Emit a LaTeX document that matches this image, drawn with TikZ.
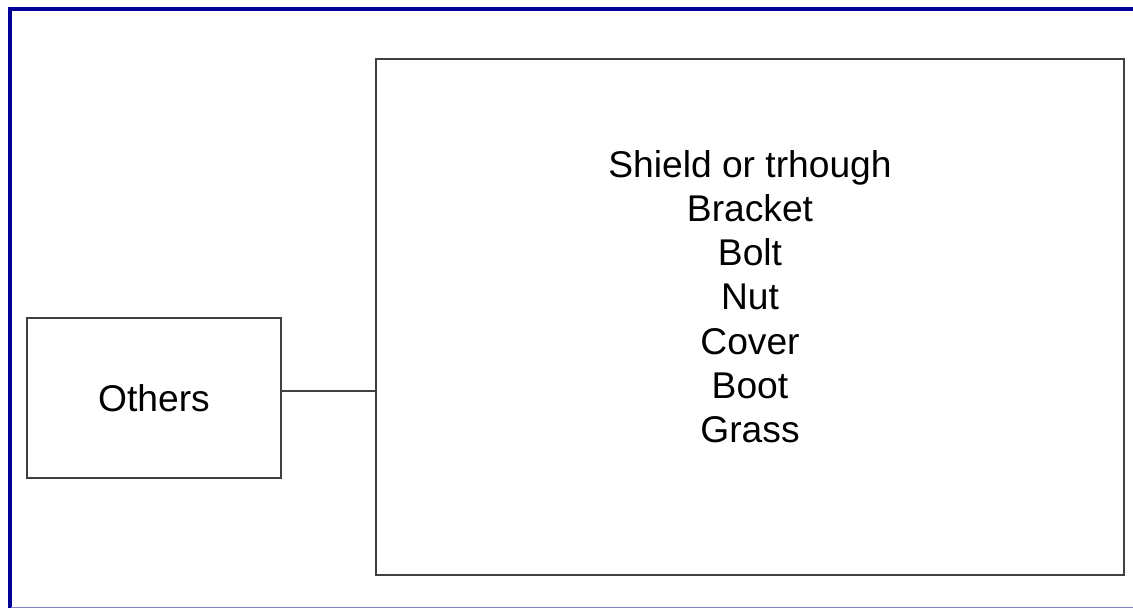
\documentclass[tikz,border=0pt]{standalone}
\usepackage{fontspec}
\setmainfont{Liberation Sans}
\usetikzlibrary{positioning}
\definecolor{framenavy}{RGB}{0,0,150}
\definecolor{framelav}{RGB}{130,130,200}
\definecolor{boxgray}{RGB}{64,64,64}
\tikzset{
  box/.style={draw=boxgray,line width=1pt,inner sep=0pt,fill=white},
  label/.style={font=\fontsize{18.6}{22.1}\selectfont,align=center,inner sep=0pt}
}
\begin{document}
\begin{tikzpicture}[x=0.5pt,y=-0.5pt]
      \useasboundingbox (0,0) rectangle (1133,608);
      % outer frame
      \draw[framenavy,line width=2pt] (9.5,610) -- (9.5,9) -- (1140,9);
      \draw[framelav,line width=0.5pt] (11,607.5) -- (1133,607.5);
      % boxes
      \node[box,minimum width=127pt,minimum height=80pt] (others) at (154,398) {};
      \node[box,minimum width=374pt,minimum height=258pt] (parts) at (750,317) {};
      \node[label] at (others.center) {Others};
      \node[label,anchor=north] (list) at (750,150) {Shield or trhough\\Bracket\\Bolt\\Nut\\Cover\\Boot\\Grass};
      % link
      \coordinate (link) at (0,391);
      \draw[boxgray,line width=1pt] (others.east |- link) -- (parts.west |- link);
\end{tikzpicture}
\end{document}
